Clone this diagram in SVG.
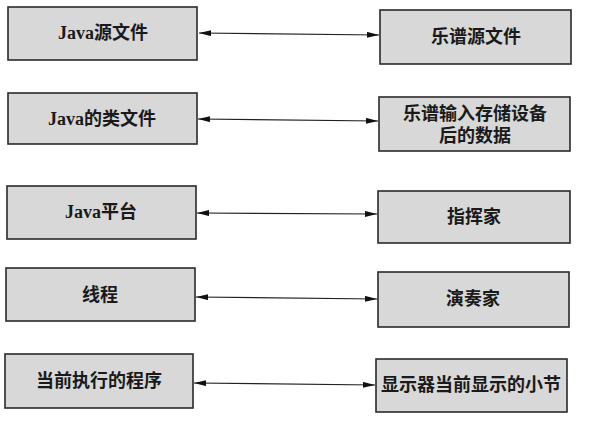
<svg xmlns="http://www.w3.org/2000/svg" width="590" height="433" viewBox="0 0 590 433">
<defs>
<style>
.box{fill:#d8d8d8;stroke:#2a2a2a;stroke-width:1.6}
.t{font-family:"Liberation Serif","Noto Sans CJK SC",serif;font-size:18px;font-weight:bold;fill:#1a1a1a;text-anchor:middle;dominant-baseline:central}
.c{stroke:#222;stroke-width:1.2;fill:none;marker-start:url(#ah);marker-end:url(#ah)}
</style>
<marker id="ah" viewBox="0 0 12 6" refX="12" refY="3" markerWidth="12" markerHeight="6" markerUnits="userSpaceOnUse" orient="auto-start-reverse">
<path d="M0,0 L12,3 L0,6 z" fill="#111"/>
</marker>
</defs>
<rect width="590" height="433" fill="#fff"/>
<g id="connectors">
<line class="c" x1="199" y1="33" x2="379" y2="35"/>
<line class="c" x1="198" y1="119" x2="378" y2="121"/>
<line class="c" x1="197" y1="213" x2="377" y2="214"/>
<line class="c" x1="196" y1="297" x2="377" y2="299"/>
<line class="c" x1="194" y1="383" x2="375" y2="385"/>
</g>
<g id="l1"><rect class="box" x="8" y="7" width="189" height="53"/><text class="t" x="103" y="33">Java源文件</text></g>
<g id="l2"><rect class="box" x="8" y="93" width="189" height="51"/><text class="t" x="102" y="119">Java的类文件</text></g>
<g id="l3"><rect class="box" x="7" y="186" width="189" height="53"/><text class="t" x="101" y="212">Java平台</text></g>
<g id="l4"><rect class="box" x="6" y="268" width="189" height="53"/><text class="t" x="100" y="295">线程</text></g>
<g id="l5"><rect class="box" x="5" y="354" width="188" height="54"/><text class="t" x="99" y="381">当前执行的程序</text></g>
<g id="r1"><rect class="box" x="380" y="10" width="191" height="54"/><text class="t" x="476" y="37">乐谱源文件</text></g>
<g id="r2"><rect class="box" x="379" y="97" width="191" height="54"/><text class="t" x="475" y="114">乐谱输入存储设备</text><text class="t" x="475" y="136">后的数据</text></g>
<g id="r3"><rect class="box" x="378" y="191" width="192" height="52"/><text class="t" x="474" y="217">指挥家</text></g>
<g id="r4"><rect class="box" x="378" y="272" width="191" height="55"/><text class="t" x="473" y="299">演奏家</text></g>
<g id="r5"><rect class="box" x="376" y="359" width="191" height="53"/><text class="t" x="471" y="385">显示器当前显示的小节</text></g>
</svg>
